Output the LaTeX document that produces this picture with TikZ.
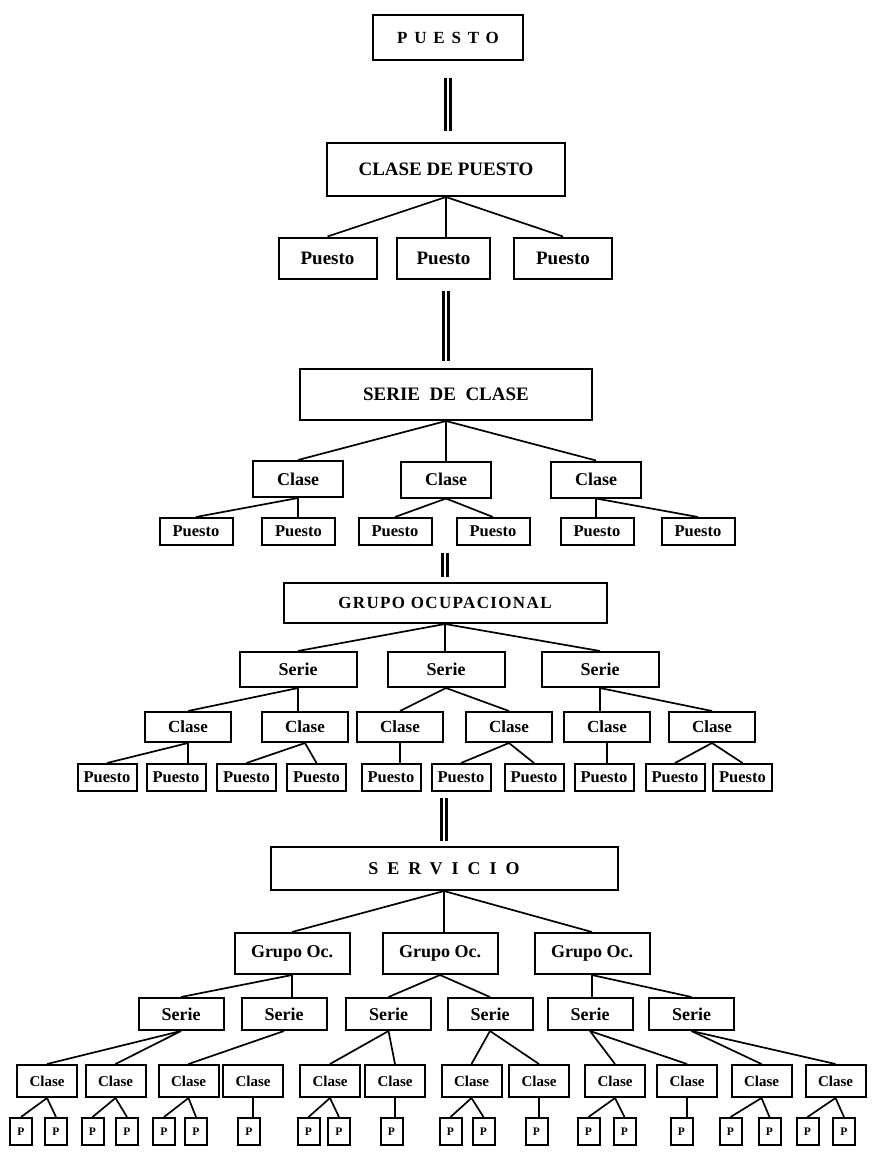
\documentclass[tikz,border=0pt]{standalone}
\usepackage{fontspec}
\setmainfont{Liberation Serif}

\begin{document}
\begin{tikzpicture}[x=1pt, y=-1pt,
  box/.style={draw, line width=2pt, inner sep=0pt},
  head/.style={box, font=\fontsize{19}{21}\selectfont\bfseries},
  r1/.style={box, minimum width=98pt, minimum height=41pt, font=\fontsize{19}{21}\selectfont\bfseries},
  r2c/.style={box, minimum width=90pt, minimum height=36pt, font=\fontsize{18}{20}\selectfont\bfseries},
  r2p/.style={box, minimum width=73pt, minimum height=27pt, font=\fontsize{16.5}{18}\selectfont\bfseries},
  r3s/.style={box, minimum width=117pt, minimum height=35pt, font=\fontsize{18}{20}\selectfont\bfseries},
  r3c/.style={box, minimum width=86pt, minimum height=30pt, font=\fontsize{17}{19}\selectfont\bfseries},
  r3p/.style={box, minimum width=59pt, minimum height=27pt, font=\fontsize{16.5}{18}\selectfont\bfseries},
  r4g/.style={box, minimum width=115pt, minimum height=41pt, font=\fontsize{18}{20}\selectfont\bfseries},
  r4s/.style={box, minimum width=85pt, minimum height=32pt, font=\fontsize{18}{20}\selectfont\bfseries},
  r4c/.style={box, minimum width=60pt, minimum height=32pt, font=\fontsize{15}{17}\selectfont\bfseries},
  r4p/.style={box, minimum width=22pt, minimum height=27pt, font=\fontsize{11.5}{13}\selectfont\bfseries},
  link/.style={line width=1.7pt},
  eqbar/.style={double, double distance=2.5pt, line width=2.6pt}
]
  \useasboundingbox (0,0) rectangle (871,1156);

  % puesto / clase de puesto
  \node[box, minimum width=150pt, minimum height=45pt,
        font=\fontsize{17}{19}\selectfont\bfseries\addfontfeature{LetterSpace=40}] (pst) at (448,37.5) {PUESTO};
  \node[head, minimum width=238pt, minimum height=53pt] (cdp) at (446,169.5) {CLASE DE PUESTO};
  \node[r1] (cp1) at (327.5,258) {Puesto};
  \node[r1, minimum width=93pt] (cp2) at (443.5,258) {Puesto};
  \node[r1] (cp3) at (563,258) {Puesto};

  % serie de clase
  \node[head, minimum width=292pt, minimum height=51pt] (sdc) at (446,394.5) {SERIE\ \ DE\ \ CLASE};
  \node[r2c] (sc1) at (298,479) {Clase};
  \node[r2c] (sc2) at (446,479.5) {Clase};
  \node[r2c] (sc3) at (596,479.5) {Clase};
  \foreach \x [count=\i] in {196,298.5,395,493,597,698}
    \node[r2p] (sp\i) at (\x,531.5) {Puesto};

  % grupo ocupacional
  \node[box, minimum width=323pt, minimum height=40pt,
        font=\fontsize{17}{19}\selectfont\bfseries\addfontfeature{LetterSpace=8}] (go) at (445,603) {GRUPO OCUPACIONAL};
  \node[r3s] (gs1) at (298,669.5) {Serie};
  \node[r3s] (gs2) at (446,669.5) {Serie};
  \node[r3s] (gs3) at (600,669.5) {Serie};
  \foreach \x [count=\i] in {188,305,400,509,607,712}
    \node[r3c] (gc\i) at (\x,727) {Clase};
  \foreach \x [count=\i] in {107,176,246.5,316.5,391,461,534,604,675,742.5}
    \node[r3p] (gp\i) at (\x,777.5) {Puesto};

  % servicio
  \node[box, minimum width=347pt, minimum height=43pt,
        font=\fontsize{18}{20}\selectfont\bfseries\addfontfeature{LetterSpace=50}] (srv) at (444,868.5) {SERVICIO};
  \node[r4g] (vg1) at (292,953.5) {Grupo Oc.};
  \node[r4g] (vg2) at (440,953.5) {Grupo Oc.};
  \node[r4g] (vg3) at (592,953.5) {Grupo Oc.};
  \foreach \x [count=\i] in {181,284,388.5,490,590,691.5}
    \node[r4s] (vs\i) at (\x,1014) {Serie};
  \foreach \x [count=\i] in {47,115.5,188.5,253,330,395,471.5,539,615,687,761.5,835.5}
    \node[r4c] (vc\i) at (\x,1081) {Clase};
  \foreach \x [count=\i] in {21,56,92.5,127,164,196,249,308.5,339,391.5,450.5,483.5,536.5,588.5,624.5,681.5,730.5,769.5,807.5,844}
    \node[r4p] (vp\i) at (\x,1131.5) {P};

  % double bars between levels
  \draw[eqbar, shorten <=17pt, shorten >=11pt] (pst.south) -- (pst.south |- cdp.north);
  \draw[eqbar, shorten <=94pt, shorten >=7pt] (cdp.south) -- (cdp.south |- sdc.north);
  \draw[eqbar, shorten <=132pt, shorten >=5pt] (go.north |- sdc.south) -- (go.north);
  \draw[eqbar, shorten <=174pt, shorten >=5pt] (srv.north |- go.south) -- (srv.north);

  % slanted links
  \foreach \a/\b in {cdp/cp1, cdp/cp3, sdc/sc1, sdc/sc3, sc1/sp1, sc2/sp3, sc2/sp4, sc3/sp6,
      go/gs1, go/gs3, gs1/gc1, gs2/gc3, gs2/gc4, gs3/gc6, gc1/gp1, gc2/gp3, gc2/gp4,
      gc4/gp6, gc4/gp7, gc6/gp9, gc6/gp10,
      srv/vg1, srv/vg3, vg1/vs1, vg2/vs3, vg2/vs4, vg3/vs6,
      vs1/vc1, vs1/vc2, vs2/vc3, vs3/vc5, vs3/vc6, vs4/vc7, vs4/vc8, vs5/vc9, vs5/vc10,
      vs6/vc11, vs6/vc12,
      vc1/vp1, vc1/vp2, vc2/vp3, vc2/vp4, vc3/vp5, vc3/vp6, vc5/vp8, vc5/vp9,
      vc7/vp11, vc7/vp12, vc9/vp14, vc9/vp15, vc11/vp17, vc11/vp18, vc12/vp19, vc12/vp20}
    \draw[link] (\a.south) -- (\b.north);

  % straight down links
  \foreach \a/\b in {cdp/cp2, sdc/sc2, sc1/sp2, sc3/sp5, go/gs2, gs1/gc2, gs3/gc5,
      gc1/gp2, gc3/gp5, gc5/gp8, srv/vg2, vg1/vs2, vg3/vs5,
      vc4/vp7, vc6/vp10, vc8/vp13, vc10/vp16}
    \draw[link] (\a.south) -- (\a.south |- \b.north);
\end{tikzpicture}
\end{document}
